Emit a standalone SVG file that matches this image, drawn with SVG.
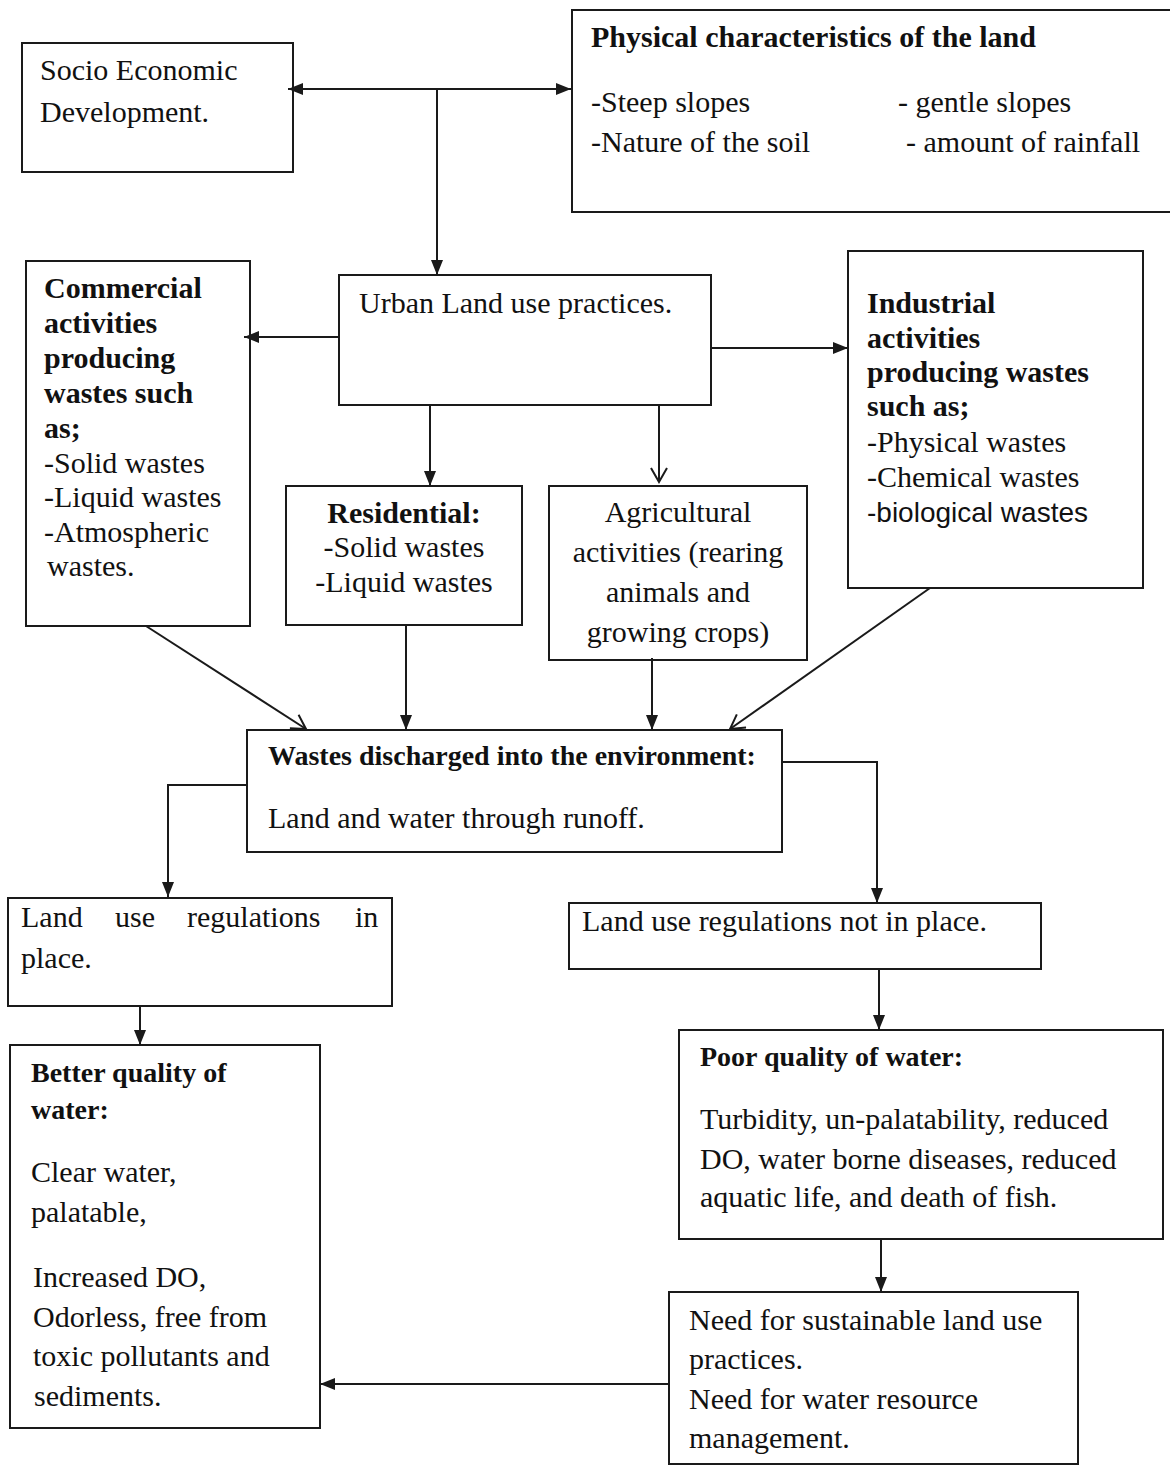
<svg xmlns="http://www.w3.org/2000/svg" width="1170" height="1467" viewBox="0 0 1170 1467">
<style>
.box{fill:#fff;stroke:#1a1a1a;stroke-width:2}
.t{font-family:"Liberation Serif","Times New Roman",serif;font-size:30px;fill:#111}
.b{font-weight:bold}
.h{font-size:28px}
.s{font-family:"Liberation Sans",Arial,sans-serif;font-size:28px;fill:#111}
.c{text-anchor:middle}
.ln{fill:none;stroke:#1a1a1a;stroke-width:2}
</style>
<defs>
<marker id="fa" markerUnits="userSpaceOnUse" markerWidth="16" markerHeight="14" refX="15" refY="7" orient="auto-start-reverse">
<path d="M0,1 L15,7 L0,13 z" fill="#1a1a1a"/>
</marker>
<marker id="oa" markerUnits="userSpaceOnUse" markerWidth="18" markerHeight="18" refX="15" refY="9" orient="auto">
<path d="M1,1 L15,9 L1,17" fill="none" stroke="#1a1a1a" stroke-width="2"/>
</marker>
</defs>
<rect width="1170" height="1467" fill="#fff"/>

<g id="socio">
<rect class="box" x="22" y="43" width="271" height="129"/>
<text class="t" x="40" y="80">Socio Economic</text>
<text class="t" x="40" y="122">Development.</text>
</g>

<g id="physical">
<rect class="box" x="572" y="10" width="610" height="202"/>
<text class="t b" x="591" y="47">Physical characteristics of the land</text>
<text class="t" x="591" y="112">-Steep slopes</text>
<text class="t" x="898" y="112">- gentle slopes</text>
<text class="t" x="591" y="152">-Nature of the soil</text>
<text class="t" x="906" y="152">- amount of rainfall</text>
</g>

<g id="urban">
<rect class="box" x="339" y="275" width="372" height="130"/>
<text class="t" x="359" y="313">Urban Land use practices.</text>
</g>

<g id="commercial">
<rect class="box" x="26" y="261" width="224" height="365"/>
<text class="t b" x="44" y="298">Commercial</text>
<text class="t b" x="44" y="333">activities</text>
<text class="t b" x="44" y="368">producing</text>
<text class="t b" x="44" y="403">wastes such</text>
<text class="t b" x="44" y="438">as;</text>
<text class="t" x="44" y="473">-Solid wastes</text>
<text class="t" x="44" y="507">-Liquid wastes</text>
<text class="t" x="44" y="542">-Atmospheric</text>
<text class="t" x="47" y="576">wastes.</text>
</g>

<g id="industrial">
<rect class="box" x="848" y="251" width="295" height="337"/>
<text class="t b" x="867" y="313">Industrial</text>
<text class="t b" x="867" y="348">activities</text>
<text class="t b" x="867" y="382">producing wastes</text>
<text class="t b" x="867" y="416">such as;</text>
<text class="t" x="867" y="452">-Physical wastes</text>
<text class="t" x="867" y="487">-Chemical wastes</text>
<text class="s" x="867" y="522">-biological wastes</text>
</g>

<g id="residential">
<rect class="box" x="286" y="486" width="236" height="139"/>
<text class="t b c" x="404" y="523">Residential:</text>
<text class="t c" x="404" y="557">-Solid wastes</text>
<text class="t c" x="404" y="592">-Liquid wastes</text>
</g>

<g id="agricultural">
<rect class="box" x="549" y="486" width="258" height="174"/>
<text class="t c" x="678" y="522">Agricultural</text>
<text class="t c" x="678" y="562">activities (rearing</text>
<text class="t c" x="678" y="602">animals and</text>
<text class="t c" x="678" y="642">growing crops)</text>
</g>

<g id="wastes">
<rect class="box" x="247" y="730" width="535" height="122"/>
<text class="t b h" x="268" y="765">Wastes discharged into the environment:</text>
<text class="t" x="268" y="828">Land and water through runoff.</text>
</g>

<g id="regs-in-place">
<rect class="box" x="8" y="898" width="384" height="108"/>
<text class="t" y="927"><tspan x="21">Land</tspan><tspan x="115">use</tspan><tspan x="187">regulations</tspan><tspan x="355">in</tspan></text>
<text class="t" x="21" y="968">place.</text>
</g>

<g id="regs-not-in-place">
<rect class="box" x="569" y="903" width="472" height="66"/>
<text class="t" x="582" y="931">Land use regulations not in place.</text>
</g>

<g id="better">
<rect class="box" x="10" y="1045" width="310" height="383"/>
<text class="t b h" x="31" y="1082">Better quality of</text>
<text class="t b h" x="31" y="1119">water:</text>
<text class="t" x="31" y="1182">Clear water,</text>
<text class="t" x="31" y="1222">palatable,</text>
<text class="t" x="33" y="1287">Increased DO,</text>
<text class="t" x="33" y="1327">Odorless, free from</text>
<text class="t" x="33" y="1366">toxic pollutants and</text>
<text class="t" x="34" y="1406">sediments.</text>
</g>

<g id="poor">
<rect class="box" x="679" y="1030" width="484" height="209"/>
<text class="t b h" x="700" y="1066">Poor quality of water:</text>
<text class="t" x="700" y="1129">Turbidity, un-palatability, reduced</text>
<text class="t" x="700" y="1169">DO, water borne diseases, reduced</text>
<text class="t" x="700" y="1207">aquatic life, and death of fish.</text>
</g>

<g id="need">
<rect class="box" x="669" y="1292" width="409" height="172"/>
<text class="t" x="689" y="1330">Need for sustainable land use</text>
<text class="t" x="689" y="1369">practices.</text>
<text class="t" x="689" y="1409">Need for water resource</text>
<text class="t" x="689" y="1448">management.</text>
</g>

<g id="connectors">
<line class="ln" x1="288" y1="89" x2="571" y2="89" marker-start="url(#fa)" marker-end="url(#fa)"/>
<line class="ln" x1="437" y1="89" x2="437" y2="275" marker-end="url(#fa)"/>
<line class="ln" x1="339" y1="337" x2="244" y2="337" marker-end="url(#fa)"/>
<line class="ln" x1="711" y1="348" x2="848" y2="348" marker-end="url(#fa)"/>
<line class="ln" x1="430" y1="405" x2="430" y2="486" marker-end="url(#fa)"/>
<line class="ln" x1="659" y1="405" x2="659" y2="482" marker-end="url(#oa)"/>
<line class="ln" x1="146" y1="626" x2="306" y2="729" marker-end="url(#oa)"/>
<line class="ln" x1="406" y1="625" x2="406" y2="730" marker-end="url(#fa)"/>
<line class="ln" x1="652" y1="658" x2="652" y2="730" marker-end="url(#fa)"/>
<line class="ln" x1="930" y1="588" x2="730" y2="729" marker-end="url(#oa)"/>
<polyline class="ln" points="247,785 168,785 168,897" marker-end="url(#fa)"/>
<polyline class="ln" points="782,762 877,762 877,903" marker-end="url(#fa)"/>
<line class="ln" x1="140" y1="1006" x2="140" y2="1045" marker-end="url(#fa)"/>
<line class="ln" x1="879" y1="969" x2="879" y2="1030" marker-end="url(#fa)"/>
<line class="ln" x1="881" y1="1239" x2="881" y2="1292" marker-end="url(#fa)"/>
<line class="ln" x1="669" y1="1384" x2="320" y2="1384" marker-end="url(#fa)"/>
</g>
</svg>
